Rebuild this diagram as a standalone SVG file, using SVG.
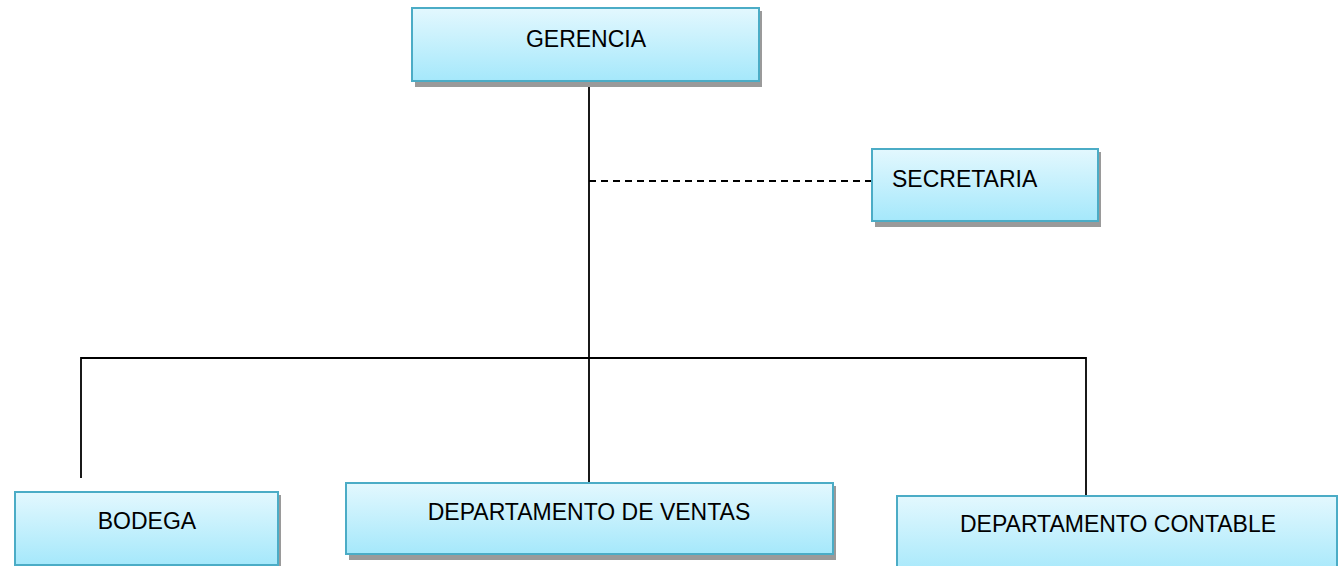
<svg xmlns="http://www.w3.org/2000/svg" width="1338" height="566" viewBox="0 0 1338 566">
<defs>
<linearGradient id="fill" x1="0" y1="0" x2="0" y2="1">
<stop offset="0" stop-color="#e3f8fe"/>
<stop offset="1" stop-color="#a5e8fb"/>
</linearGradient>
<style>
.shadow{fill:#9a9a9a;}
.box{fill:url(#fill);stroke:#4bacc6;stroke-width:2;}
.lbl{font-family:"Liberation Sans",Arial,sans-serif;font-size:23px;fill:#000;}
.c{text-anchor:middle;}
.ln{stroke:#000;stroke-width:1.8;fill:none;}
.dash{stroke-dasharray:7 5;}
</style>
</defs>
<rect width="1338" height="566" fill="#fff"/>
<g id="connectors">
<line class="ln" x1="589" y1="81" x2="589" y2="483"/>
<line class="ln" x1="81" y1="358" x2="1086" y2="358"/>
<line class="ln" x1="81" y1="357" x2="81" y2="478"/>
<line class="ln" x1="1086" y1="357" x2="1086" y2="496"/>
<line class="ln dash" x1="589" y1="181" x2="872" y2="181"/>
</g>
<g id="gerencia">
<rect class="shadow" x="415" y="11" width="347" height="76"/>
<rect class="box" x="412" y="8" width="347" height="73"/>
<text class="lbl c" x="586" y="47">GERENCIA</text>
</g>
<g id="secretaria">
<rect class="shadow" x="875" y="152" width="226" height="75"/>
<rect class="box" x="872" y="149" width="226" height="72"/>
<text class="lbl" x="892" y="187">SECRETARIA</text>
</g>
<g id="bodega">
<rect class="shadow" x="18" y="495" width="263" height="76"/>
<rect class="box" x="15" y="492" width="263" height="73"/>
<text class="lbl c" x="147" y="529">BODEGA</text>
</g>
<g id="ventas">
<rect class="shadow" x="349" y="486" width="487" height="74"/>
<rect class="box" x="346" y="483" width="487" height="71"/>
<text class="lbl c" x="589" y="520">DEPARTAMENTO DE VENTAS</text>
</g>
<g id="contable">
<rect class="box" x="897" y="496" width="440" height="80"/>
<text class="lbl c" x="1118" y="532">DEPARTAMENTO CONTABLE</text>
</g>
</svg>
